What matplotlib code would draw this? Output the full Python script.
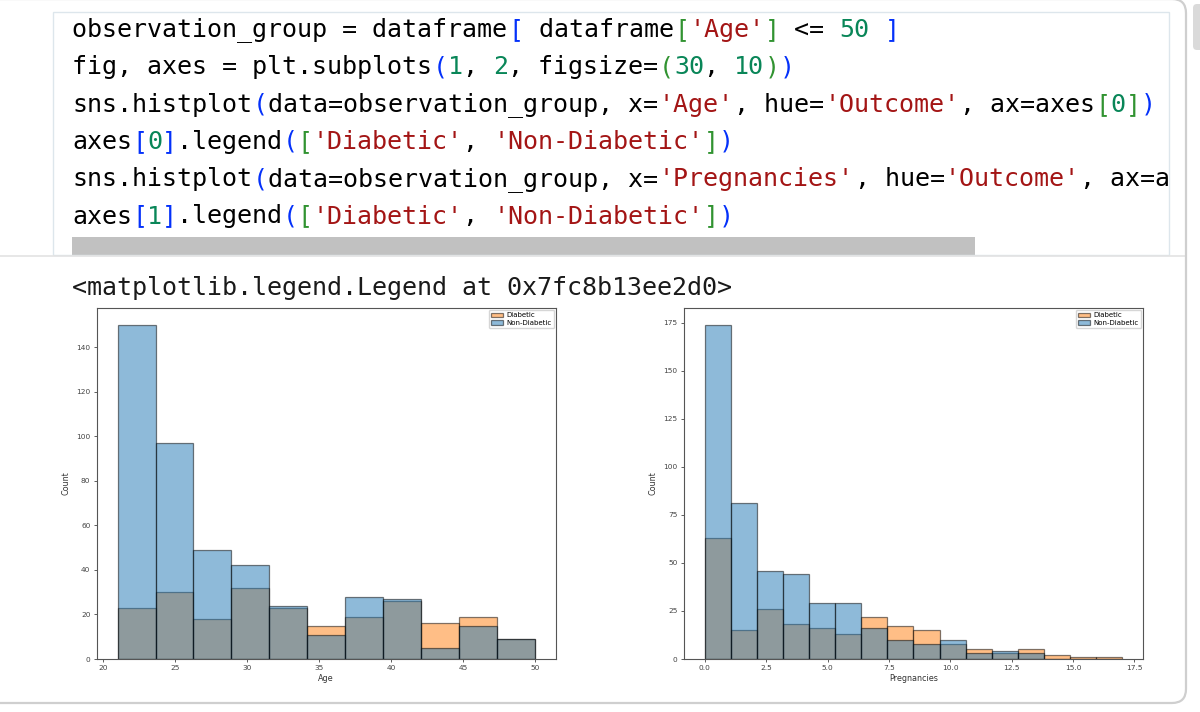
import re
import numpy as np
import matplotlib
matplotlib.use("Agg")
import matplotlib.pyplot as plt
from matplotlib.patches import Rectangle, FancyBboxPatch

# notebook cell text
code_lines = [
    "observation_group = dataframe[ dataframe['Age'] <= 50 ]",
    "fig, axes = plt.subplots(1, 2, figsize=(30, 10))",
    "sns.histplot(data=observation_group, x='Age', hue='Outcome', ax=axes[0])",
    "axes[0].legend(['Diabetic', 'Non-Diabetic'])",
    "sns.histplot(data=observation_group, x='Pregnancies', hue='Outcome', ax=axes[1])",
    "axes[1].legend(['Diabetic', 'Non-Diabetic'])",
]
output_line = "<matplotlib.legend.Legend at 0x7fc8b13ee2d0>"

# histogram counts (one value per bin)
age_range = (21, 50)
age_non_diabetic = [150, 97, 49, 42, 24, 11, 28, 27, 5, 15, 9]
age_diabetic = [23, 30, 18, 32, 23, 15, 19, 26, 16, 19, 9]

preg_range = (0, 17)
preg_non_diabetic = [174, 81, 46, 44, 29, 29, 16, 10, 8, 10, 3, 4, 3, 0, 0, 0]
preg_diabetic = [63, 15, 26, 18, 16, 13, 22, 17, 15, 8, 5, 3, 5, 2, 1, 1]

legend_labels = ['Diabetic', 'Non-Diabetic']

W, H, DPI = 1200, 712, 100
fig = plt.figure(figsize=(W / DPI, H / DPI), dpi=DPI)

# background axes in pixel coordinates for the notebook chrome
bg = fig.add_axes([0, 0, 1, 1])
bg.set_xlim(0, W)
bg.set_ylim(H, 0)
bg.axis('off')

# code cell
bg.add_patch(Rectangle((53, 12), 1116, 243, fc='white', ec='none', zorder=1))
bg.add_patch(Rectangle((72, 237), 903, 18, fc='#c1c1c1', ec='none', zorder=2))

FS = 18
char_w = 0.60205 * FS * DPI / 72
x0 = 72
y_lines = [30 + 37.3 * i for i in range(len(code_lines))]

bracket_cols = ['#0431fa', '#319331', '#7b3814']
tok_re = re.compile(r"'[^']*'|\b\d+\b|[\[\]\(\)]|[^'\[\]\(\)\d]+|\w+")


def tokens(line):
    depth = 0
    out = []
    for m in tok_re.finditer(line):
        s = m.group(0)
        if s.startswith("'"):
            c = '#a31515'
        elif s.isdigit():
            c = '#098658'
        elif s in '([':
            c = bracket_cols[depth % 3]
            depth += 1
        elif s in ')]':
            depth -= 1
            c = bracket_cols[depth % 3]
        else:
            c = '#000000'
        out.append((m.start(), s, c))
    return out


for y, line in zip(y_lines, code_lines):
    for col, s, c in tokens(line):
        bg.text(x0 + col * char_w, y, s, color=c, fontsize=FS,
                family='DejaVu Sans Mono', va='center', ha='left', zorder=3)

# hide the overflow of the long line beyond the cell's right edge
bg.add_patch(Rectangle((1169.5, 12), 40, 243, fc='white', ec='none', zorder=4))
bg.add_patch(Rectangle((53, 12), 1116, 243, fc='none', ec='#dde6ec', lw=1.0, zorder=5))
bg.plot([0, 1186], [255.5, 255.5], color='#e3e3e3', lw=1.2, zorder=5)

# outer output container (right / bottom borders with round corners)
bg.add_patch(FancyBboxPatch((-30, -1), 1216, 704, boxstyle="round,pad=0,rounding_size=14",
                            fc='none', ec='#cfcfcf', lw=1.6, zorder=6))
# page scrollbar stub at top right
bg.add_patch(FancyBboxPatch((1193, 4), 12, 46, boxstyle="round,pad=0,rounding_size=4",
                            fc='#dadada', ec='none', zorder=6))

bg.text(x0, 288, output_line, color='#1a1a1a', fontsize=FS,
        family='DejaVu Sans Mono', va='center', ha='left')

blue = '#1f77b4'
orange = '#ff7f0e'


def hist_panel(rect, rng, non_diab, diab, xlabel):
    ax = fig.add_axes(rect)
    edges = np.linspace(rng[0], rng[1], len(non_diab) + 1)
    widths = np.diff(edges)
    b_or = ax.bar(edges[:-1], diab, width=widths, align='edge', color=orange,
                  edgecolor='black', linewidth=0.9, alpha=0.5)
    b_bl = ax.bar(edges[:-1], non_diab, width=widths, align='edge', color=blue,
                  edgecolor='black', linewidth=0.9, alpha=0.5)
    ax.legend([b_or, b_bl], legend_labels, loc='upper right', fontsize=5,
              handlelength=1.7, handleheight=0.6, borderpad=0.35,
              labelspacing=0.25, handletextpad=0.5, borderaxespad=0.25)
    ax.set_xlabel(xlabel, fontsize=5.8, labelpad=2, color='#333333')
    ax.set_ylabel('Count', fontsize=5.8, labelpad=4, color='#333333')
    ax.tick_params(labelsize=5.3, length=2.5, width=0.6, pad=2, colors='#444444')
    for sp in ax.spines.values():
        sp.set_color('#555555')
        sp.set_linewidth(0.8)
    return ax


hist_panel([0.0806, 0.0744, 0.3825, 0.4930], age_range,
           age_non_diabetic, age_diabetic, 'Age')
hist_panel([0.570, 0.0744, 0.3825, 0.4930], preg_range,
           preg_non_diabetic, preg_diabetic, 'Pregnancies')

fig.savefig('out.png', dpi=DPI)
